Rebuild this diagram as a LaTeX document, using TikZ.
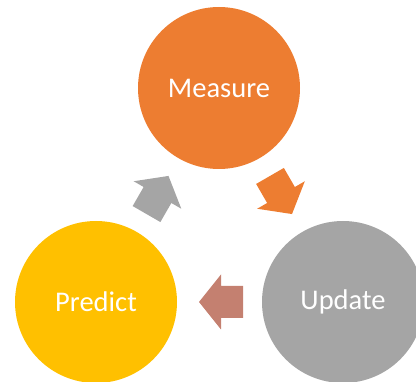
\documentclass[tikz,border=0pt]{standalone}
\usepackage{fontspec}
\setmainfont{Carlito}
\usetikzlibrary{calc}
\definecolor{cOrange}{HTML}{ED7D31}
\definecolor{cGray}{HTML}{A5A5A5}
\definecolor{cYellow}{HTML}{FFC000}
\definecolor{cBrown}{RGB}{196,128,112}
\tikzset{
  stage/.style={circle, minimum size=162pt, inner sep=0pt, text=white,
    font=\fontsize{28.5}{34}\selectfont},
  blockarrow/.pic={\fill[#1] (-22,-16) -- (0,-16) -- (0,-27.5) -- (22,0)
    -- (0,27.5) -- (0,16) -- (-22,16) -- cycle;}
}
\begin{document}
\begin{tikzpicture}[x=1pt,y=-1pt]
\useasboundingbox (0,0) rectangle (416,382);
\node[stage, fill=cOrange] (measure) at (219,88) {Measure};
\node[stage, fill=cGray] (update) at (343,302) {Update};
\node[stage, fill=cYellow] (predict) at (96,302) {Predict};
\pic[rotate=60] (a1) at ($(predict)!0.5!(measure)$) {blockarrow=cGray};
\pic[rotate=-60] (a2) at ($(measure)!0.5!(update)$) {blockarrow=cOrange};
\pic[rotate=180] (a3) at ($(update)!0.5!(predict)+(1.5,0)$) {blockarrow=cBrown};
\end{tikzpicture}
\end{document}
